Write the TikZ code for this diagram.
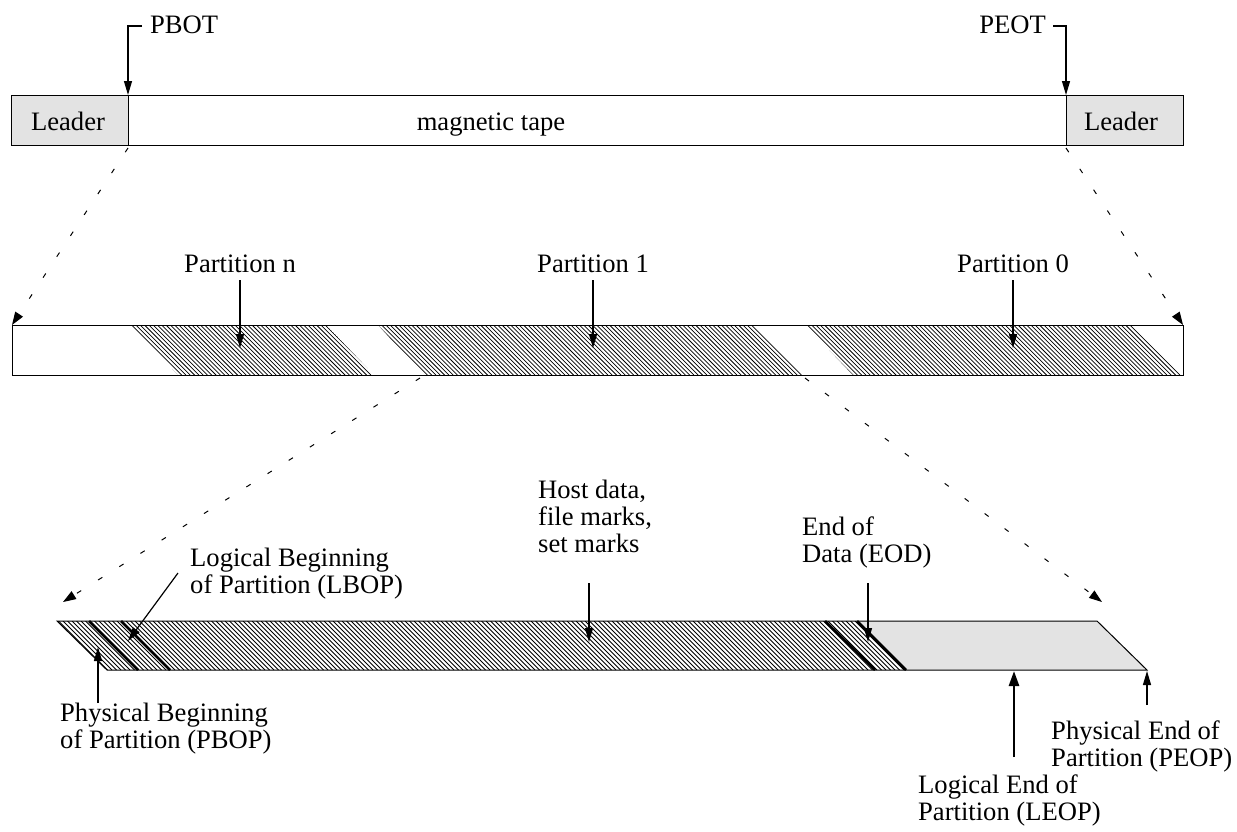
\documentclass[tikz,border=0pt]{standalone}
\usepackage{fontspec}
\setmainfont{Liberation Serif}
\usetikzlibrary{arrows.meta}
\begin{document}
\begin{tikzpicture}[x=1pt,y=-1pt,
  lbl/.style={inner sep=0pt,font=\fontsize{26.6}{27}\selectfont},
  edge/.style={draw=black,line width=1pt},
  leaderfill/.style={fill=black!11},
  hatch/.style={line width=0.75pt,black},
  thickmark/.style={line width=2.6pt,black},
  ptr/.style={line width=1.2pt,-{Triangle[length=14pt,width=8pt]}},
  bigptr/.style={line width=2.6pt,-{Triangle[length=15pt,width=10pt]}},
  zoomline/.style={line width=1pt,dash pattern=on 5pt off 20pt,-{Triangle[length=13pt,width=9pt]}}
]
\useasboundingbox (0,0) rectangle (1237,831);

% ---------- top tape ----------
\path[leaderfill] (11,95) rectangle (128,145);
\path[leaderfill] (1066,95) rectangle (1183,145);
\draw[edge] (11,95) rectangle (1183,145);
\draw[edge] (128,95) -- (128,145);
\draw[edge] (1066,95) -- (1066,145);
\node[lbl,anchor=base] (leadL) at (68,130) {Leader};
\node[lbl,anchor=base] (leadR) at (1121,130) {Leader};
\node[lbl,anchor=base] (mtape) at (491,130) {magnetic tape};

\node[lbl,anchor=base west] (pbot) at (150,33) {PBOT};
\node[lbl,anchor=base east] (peot) at (1046,33) {PEOT};
\coordinate (pbotA) at (142,26);
\coordinate (pbotB) at (128,26);
\coordinate (pbotC) at (128,95);
\coordinate (peotA) at (1053,26);
\coordinate (peotB) at (1066,26);
\coordinate (peotC) at (1066,95);
\draw[ptr] (pbotA) -- (pbotB) -- (pbotC);
\draw[ptr] (peotA) -- (peotB) -- (peotC);

% zoom lines top -> middle
\coordinate (zA1) at (128,148);
\coordinate (zA2) at (12,325);
\coordinate (zB1) at (1066,148);
\coordinate (zB2) at (1183,325);
\draw[zoomline] (zA1) -- (zA2);
\draw[zoomline] (zB1) -- (zB2);

% ---------- middle tape ----------
\begin{scope}
\clip (130,325) -- (326,325) -- (374,375) -- (178,375) -- cycle;
\foreach \x in {80,84.3,...,380} \draw[hatch] (\x,325) -- ++(50,50);
\end{scope}
\begin{scope}
\clip (378,325) -- (754,325) -- (803,375) -- (424,375) -- cycle;
\foreach \x in {330,334.3,...,760} \draw[hatch] (\x,325) -- ++(50,50);
\end{scope}
\begin{scope}
\clip (805,325) -- (1133,325) -- (1183,375) -- (853,375) -- cycle;
\foreach \x in {760,764.3,...,1140} \draw[hatch] (\x,325) -- ++(50,50);
\end{scope}
\draw[edge] (12,325) rectangle (1183,375);

\node[lbl,anchor=base] (pn) at (240,272) {Partition n};
\node[lbl,anchor=base] (p1) at (593,272) {Partition 1};
\node[lbl,anchor=base] (p0) at (1013,272) {Partition 0};
\coordinate (pnT) at (240,348);
\coordinate (p1T) at (593,348);
\coordinate (p0T) at (1013,348);
\draw[ptr] (240,280) -- (pnT);
\draw[ptr] (593,280) -- (p1T);
\draw[ptr] (1013,280) -- (p0T);

% zoom lines middle -> bottom
\coordinate (zC1) at (420,378);
\coordinate (zC2) at (63,602);
\coordinate (zD1) at (805,378);
\coordinate (zD2) at (1102,602);
\draw[zoomline] (zC1) -- (zC2);
\draw[zoomline] (zD1) -- (zD2);

% ---------- bottom partition ----------
\path[leaderfill] (857,621) -- (1097,621) -- (1147,670) -- (906,670) -- cycle;
\begin{scope}
\clip (57,621) -- (857,621) -- (906,670) -- (107,670) -- cycle;
\foreach \x in {0,4.5,...,870} \draw[hatch] (\x,621) -- ++(49,49);
\end{scope}
\draw[edge] (57,621) -- (1097,621) -- (1147,670) -- (107,670) -- cycle;
\draw[thickmark] (89,621) -- (138,670);
\draw[thickmark] (121,621) -- (170,670);
\draw[thickmark] (825,621) -- (875,670);
\draw[thickmark] (857,621) -- (906,670);

% labels bottom (base anchor = baseline of last line)
\node[lbl,anchor=base west,align=left] (lbop) at (190,593) {Logical Beginning\\of Partition (LBOP)};
\coordinate (lbopS) at (178,573);
\coordinate (lbopT) at (128,641);
\draw[ptr] (lbopS) -- (lbopT);

\node[lbl,anchor=base west,align=left] (pbop) at (60,748) {Physical Beginning\\of Partition (PBOP)};
\coordinate (pbopS) at (98,703);
\coordinate (pbopT) at (98,647);
\draw[ptr] (pbopS) -- (pbopT);

\node[lbl,anchor=base west,align=left] (host) at (538,552) {Host data,\\file marks,\\set marks};
\coordinate (hostS) at (589,583);
\coordinate (hostT) at (589,642);
\draw[ptr] (hostS) -- (hostT);

\node[lbl,anchor=base west,align=left] (eod) at (802,562) {End of\\Data (EOD)};
\coordinate (eodS) at (868,583);
\coordinate (eodT) at (868,642);
\draw[ptr] (eodS) -- (eodT);

\node[lbl,anchor=base west,align=left] (leop) at (918,820) {Logical End of\\Partition (LEOP)};
\coordinate (leopS) at (1014,757);
\coordinate (leopT) at (1014,671);
\draw[bigptr] (leopS) -- (leopT);

\node[lbl,anchor=base west,align=left] (peop) at (1051,766) {Physical End of\\Partition (PEOP)};
\coordinate (peopS) at (1147,705);
\coordinate (peopT) at (1147,671);
\draw[ptr] (peopS) -- (peopT);
\end{tikzpicture}
\end{document}
